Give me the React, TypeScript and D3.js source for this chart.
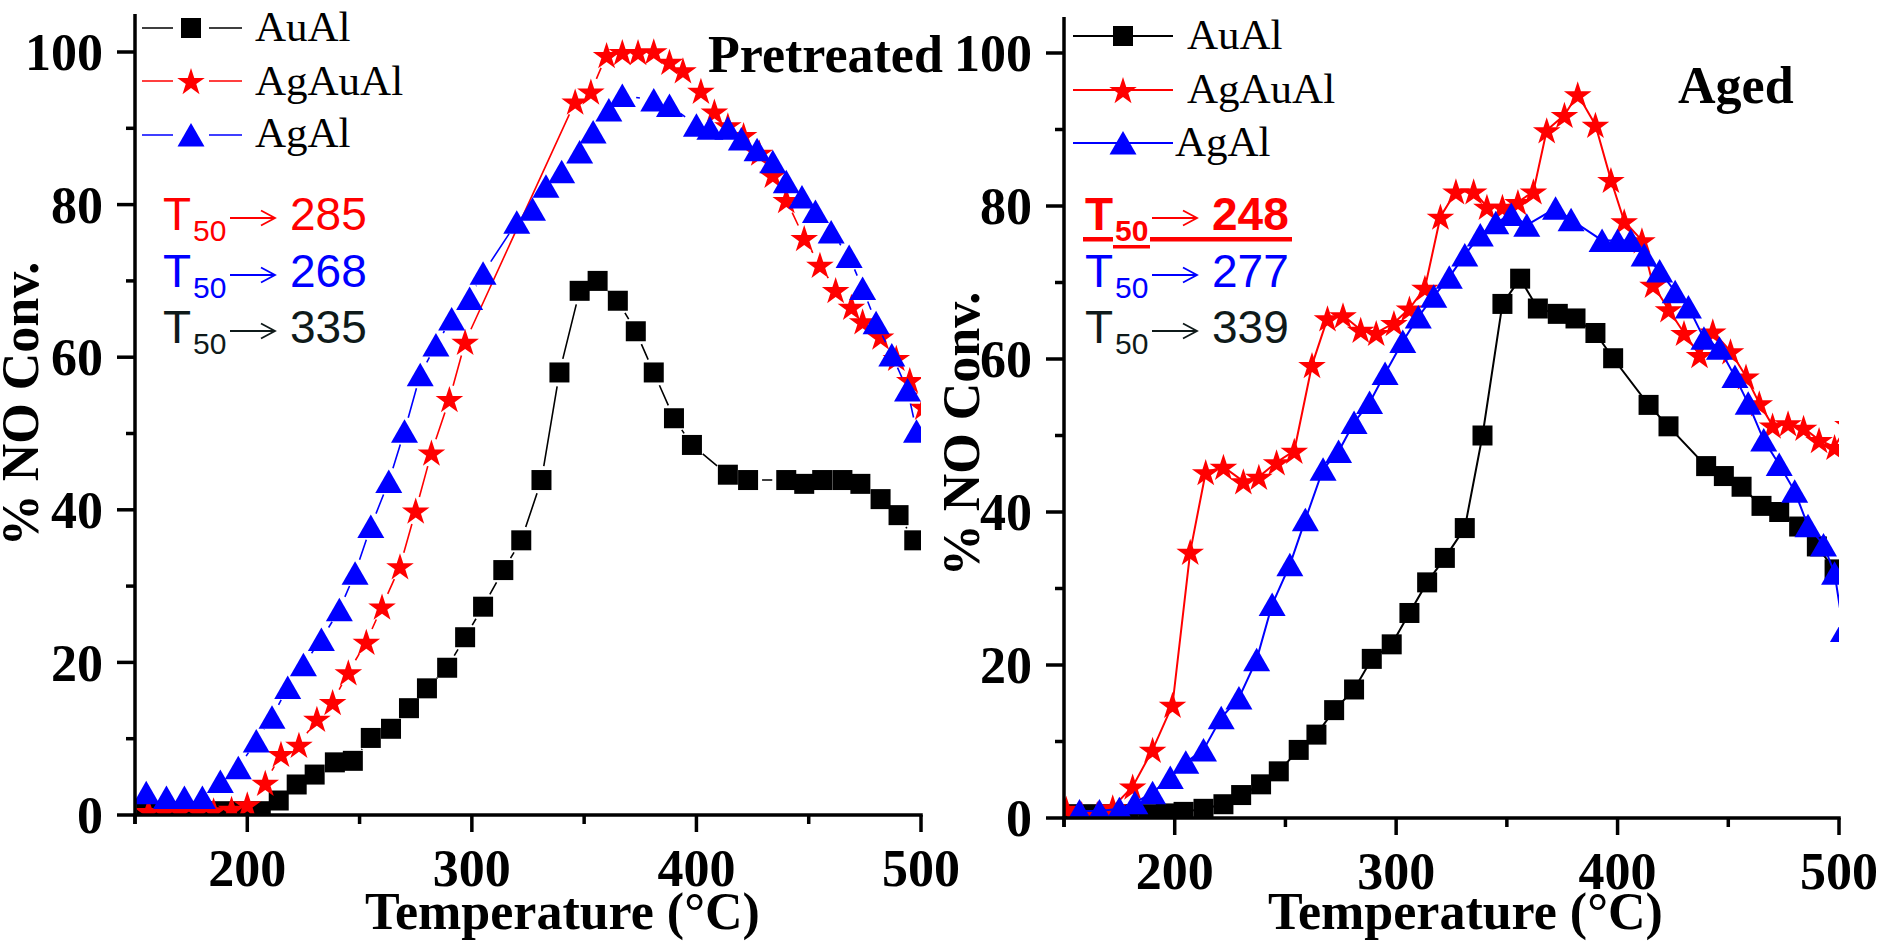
import React from "react";
import * as d3 from "d3";

// values: temperature (°C) and % NO conversion

// --- Pretreated panel ---
const preAuAlT = [155, 163, 172, 180, 189, 197, 206, 214, 222, 230, 239, 247, 255, 264, 272, 280, 289, 297, 305, 314, 322, 331, 339, 348, 356, 365, 373, 381, 390, 398, 414, 423, 440, 448, 456, 465, 473, 482, 490, 497];
const preAuAlNO = [0.5, 0.5, 0.5, 0.5, 0.5, 0.5, 0.5, 1.9, 4.0, 5.3, 6.9, 7.1, 10.1, 11.3, 14.0, 16.6, 19.3, 23.3, 27.3, 32.1, 36.0, 43.9, 58.0, 68.7, 70.0, 67.4, 63.4, 58.0, 52.0, 48.5, 44.6, 43.9, 43.9, 43.4, 43.9, 43.9, 43.4, 41.4, 39.3, 36.0];

const preAgAuAlT = [156, 163, 170, 178, 185, 193, 200, 208, 215, 223, 231, 238, 245, 253, 260, 268, 275, 282, 290, 297, 346, 353, 360, 367, 374, 381, 388, 394, 402, 408, 414, 421, 428, 434, 440, 448, 455, 462, 469, 474, 482, 489, 495, 501];
const preAgAuAlNO = [0.5, 0.5, 0.5, 0.5, 0.6, 0.8, 1.4, 4.2, 8.0, 9.2, 12.6, 14.8, 18.7, 22.7, 27.3, 32.6, 39.9, 47.5, 54.5, 62.0, 93.5, 94.8, 99.6, 100, 100, 100.1, 98.7, 97.6, 94.9, 92.2, 90.4, 89.1, 86.8, 83.9, 80.6, 75.6, 72.1, 68.8, 66.6, 64.7, 62.7, 59.9, 57.0, 53.5];

const preAgAlT = [155, 164, 172, 180, 188, 196, 204, 211, 218, 225, 233, 241, 248, 255, 263, 270, 277, 284, 291, 299, 305, 320, 327, 333, 340, 348, 354, 361, 367, 381, 388, 400, 406, 414, 420, 427, 434, 440, 447, 453, 460, 468, 474, 480, 487, 494, 498];
const preAgAlNO = [2.9, 2.3, 2.3, 2.3, 4.4, 6.2, 9.7, 12.8, 16.7, 19.7, 23.0, 26.9, 31.7, 37.8, 43.7, 50.3, 57.7, 61.6, 65.0, 67.7, 71.0, 77.7, 79.4, 82.4, 84.3, 86.9, 89.5, 92.4, 94.3, 93.7, 93.0, 90.4, 90.0, 90.0, 88.6, 87.2, 85.6, 83.0, 81.0, 79.1, 76.4, 73.2, 69.0, 64.5, 60.3, 55.7, 50.3];

// --- Aged panel ---
const agedAuAlT = [154, 162, 171, 179, 188, 196, 204, 213, 222, 230, 239, 247, 256, 264, 272, 281, 289, 298, 306, 314, 322, 331, 339, 348, 356, 364, 373, 381, 390, 398, 414, 423, 440, 448, 456, 465, 473, 482, 490, 498];
const agedAuAlNO = [0.5, 0.5, 0.5, 0.5, 0.5, 0.6, 0.8, 1.2, 1.8, 3.0, 4.4, 6.1, 8.9, 10.9, 14.1, 16.8, 20.8, 22.7, 26.8, 30.8, 34.0, 37.9, 50.0, 67.2, 70.5, 66.6, 65.9, 65.3, 63.4, 60.1, 54.0, 51.2, 46.0, 44.7, 43.3, 40.8, 40.0, 38.1, 35.5, 32.5];

const agedAgAuAlT = [151, 158, 165, 172, 181, 190, 199, 207, 214, 222, 231, 238, 246, 254, 262, 269, 276, 284, 291, 299, 306, 313, 320, 327, 335, 341, 348, 355, 362, 368, 376, 382, 390, 397, 403, 411, 416, 423, 430, 437, 443, 451, 458, 464, 470, 477, 484, 491, 498, 504];
const agedAgAuAlNO = [1.2, 0.5, 0.5, 1.4, 4.1, 8.9, 14.8, 34.8, 45.2, 45.9, 44.0, 44.6, 46.5, 48.0, 59.2, 65.3, 65.7, 63.8, 63.4, 64.7, 66.6, 69.3, 78.6, 81.9, 81.9, 79.9, 79.9, 80.5, 81.9, 89.9, 91.9, 94.6, 90.6, 83.4, 78.0, 75.5, 69.7, 66.5, 63.4, 60.5, 63.6, 61.0, 57.7, 54.2, 51.3, 51.6, 51.0, 49.4, 48.5, 51.5];

const agedAgAlT = [157, 166, 175, 182, 190, 198, 205, 213, 221, 229, 237, 244, 252, 259, 267, 274, 281, 288, 295, 303, 310, 317, 324, 331, 338, 345, 352, 359, 372, 379, 393, 400, 406, 412, 419, 426, 432, 439, 446, 453, 459, 466, 473, 480, 486, 493, 498, 502];
const agedAgAlNO = [0.9, 0.9, 1.2, 2.0, 3.3, 5.3, 7.3, 8.9, 13.1, 15.7, 20.7, 27.9, 33.1, 39.0, 45.6, 47.9, 51.7, 54.3, 58.1, 62.3, 65.5, 68.2, 70.7, 73.6, 76.2, 77.8, 78.9, 77.5, 79.7, 78.2, 75.5, 75.5, 75.5, 73.6, 71.5, 68.8, 66.8, 62.7, 61.4, 57.7, 54.2, 49.4, 46.2, 42.7, 38.2, 35.7, 32.0, 24.5];

// axes / labels
const xMajorTicks = [200, 300, 400, 500];
const xMinorTicks = [150, 250, 350, 450];
const yMajorTicks = [0, 20, 40, 60, 80, 100];
const yMinorTicks = [10, 30, 50, 70, 90];
const seriesNames = ["AuAl", "AgAuAl", "AgAl"];
const seriesColors = ["#000000", "#ff0000", "#0000ff"];
const seriesShapes = ["square", "star", "triangle"];
// T50 annotations, top to bottom: AgAuAl, AgAl, AuAl
const preT50 = ["285", "268", "335"];
const agedT50 = ["248", "277", "339"];
const t50Colors = ["#ff0000", "#0000ff", "#0f1a1a"];

const SERIF = '"Liberation Serif", "Times New Roman", serif';
const SANS = '"Liberation Sans", Arial, sans-serif';

function starPath(cx, cy, R) {
  const r = R * 0.382;
  const pts = [];
  for (let i = 0; i < 10; i++) {
    const a = -Math.PI / 2 + (i * Math.PI) / 5;
    const rr = i % 2 === 0 ? R : r;
    pts.push([cx + rr * Math.cos(a), cy + rr * Math.sin(a)]);
  }
  return "M" + pts.map((p) => p[0].toFixed(2) + "," + p[1].toFixed(2)).join("L") + "Z";
}

const Marker = ({ shape, x, y, color }) => {
  if (shape === "square") {
    return <rect x={x - 10} y={y - 10} width={20} height={20} fill={color} />;
  }
  if (shape === "triangle") {
    return (
      <path
        d={`M${x},${y - 12}L${x + 13.5},${y + 11.5}L${x - 13.5},${y + 11.5}Z`}
        fill={color}
      />
    );
  }
  return <path d={starPath(x, y + 1.4, 14.5)} fill={color} />;
};

// segments that stop short of each marker (Origin "gap to symbol")
function gappedPath(pts, gap) {
  let d = "";
  for (let i = 0; i < pts.length - 1; i++) {
    const [ax, ay] = pts[i];
    const [bx, by] = pts[i + 1];
    const dx = bx - ax, dy = by - ay;
    const len = Math.hypot(dx, dy);
    if (len <= 2 * gap) continue;
    const ux = dx / len, uy = dy / len;
    d += `M${ax + ux * gap},${ay + uy * gap}L${bx - ux * gap},${by - uy * gap}`;
  }
  return d;
}

const Panel = ({ id, x, y, top, series, gapped, lineW, title, titleX, titleY, labelX, labelY, titleXStart }) => {
  const x0 = x(150), x1 = x(500), y0 = y(0);
  const line = d3.line();
  return (
    <g>
      <defs>
        <clipPath id={id}>
          <rect x={x0} y={top} width={x1 - x0} height={y0 - top} />
        </clipPath>
      </defs>
      <g clipPath={`url(#${id})`}>
        {series.map((s, si) => {
          const pts = s.t.map((t, i) => [x(t), y(s.v[i])]);
          return (
            <g key={si}>
              <path
                d={gapped ? gappedPath(pts, 14) : line(pts)}
                fill="none"
                stroke={seriesColors[si]}
                strokeWidth={lineW}
              />
              {pts.map((p, i) => (
                <Marker key={i} shape={seriesShapes[si]} x={p[0]} y={p[1]} color={seriesColors[si]} />
              ))}
            </g>
          );
        })}
      </g>
      {/* axes */}
      <g stroke="#000" strokeWidth={3.5}>
        <line x1={x0} x2={x0} y1={top} y2={y0 + 9} />
        <line x1={x0 - 1.75} x2={x1 + 1.75} y1={y0} y2={y0} />
        {yMajorTicks.map((v) => (
          <line key={"ym" + v} x1={x0 - 18} x2={x0} y1={y(v)} y2={y(v)} />
        ))}
        {yMinorTicks.map((v) => (
          <line key={"yn" + v} x1={x0 - 9} x2={x0} y1={y(v)} y2={y(v)} />
        ))}
        {xMajorTicks.map((v) => (
          <line key={"xm" + v} x1={x(v)} x2={x(v)} y1={y0} y2={y0 + 17} />
        ))}
        {xMinorTicks.map((v) => (
          <line key={"xn" + v} x1={x(v)} x2={x(v)} y1={y0} y2={y0 + 9} />
        ))}
      </g>
      <g fontFamily={SERIF} fontWeight="bold" fontSize={52} fill="#000">
        {yMajorTicks.map((v) => (
          <text key={"yl" + v} x={x0 - 32} y={y(v)} dy="0.35em" textAnchor="end">
            {v}
          </text>
        ))}
        {xMajorTicks.map((v) => (
          <text key={"xl" + v} x={x(v)} y={y0 + 71} textAnchor="middle">
            {v}
          </text>
        ))}
        <text x={titleXStart} y={929}>Temperature (°C)</text>
        <text transform={`translate(${labelX},${labelY}) rotate(-90)`} textAnchor="middle">
          % NO Conv.
        </text>
        <text x={titleX} y={titleY}>{title}</text>
      </g>
    </g>
  );
};

const Legend = ({ lineX1, lineX2, markX, rows, textXs, baselines, gapped }) => (
  <g>
    {seriesNames.map((name, i) => (
      <g key={name}>
        {gapped ? (
          <path
            d={`M${lineX1},${rows[i]}L${markX - 18},${rows[i]}M${markX + 18},${rows[i]}L${lineX2},${rows[i]}`}
            stroke={seriesColors[i]}
            strokeWidth={1.5}
          />
        ) : (
          <line x1={lineX1} x2={lineX2} y1={rows[i]} y2={rows[i]} stroke={seriesColors[i]} strokeWidth={2} />
        )}
        <Marker shape={seriesShapes[i]} x={markX} y={rows[i]} color={seriesColors[i]} />
        <text x={textXs[i]} y={baselines[i]} fontFamily={SERIF} fontSize={43} fill="#000">
          {name}
        </text>
      </g>
    ))}
  </g>
);

const T50Block = ({ x, values, baselines, boldFirst }) => (
  <g fontFamily={SANS}>
    {values.map((val, i) => {
      const strong = boldFirst && i === 0;
      const bold = strong ? "bold" : "normal";
      const b = baselines[i];
      const c = t50Colors[i];
      const ay = b - 12;
      return (
        <g key={i} fill={c}>
          <text x={x} y={b} fontSize={46} fontWeight={bold}>T</text>
          <text x={x + 30} y={b + 11} fontSize={30} fontWeight={bold}>50</text>
          <path
            d={`M${x + 67},${ay}L${x + 112},${ay}M${x + 98},${ay - 7.5}L${x + 112},${ay}L${x + 98},${ay + 7.5}`}
            fill="none"
            stroke={c}
            strokeWidth={1.8}
          />
          <text x={x + 127} y={b} fontSize={46} fontWeight={bold}>{val}</text>
          {strong ? (
            <g>
              <rect x={x - 2} y={b + 7} width={30} height={4.5} />
              <rect x={x + 65} y={b + 7} width={142} height={4.5} />
              <rect x={x + 28} y={b + 15} width={37} height={3.5} />
            </g>
          ) : null}
        </g>
      );
    })}
  </g>
);

export default function App() {
  const xPre = d3.scaleLinear().domain([150, 500]).range([135, 921]);
  const yPre = d3.scaleLinear().domain([0, 100]).range([815, 52]);
  const xAged = d3.scaleLinear().domain([150, 500]).range([1064, 1839]);
  const yAged = d3.scaleLinear().domain([0, 100]).range([818, 53]);

  const preSeries = [
    { t: preAuAlT, v: preAuAlNO },
    { t: preAgAuAlT, v: preAgAuAlNO },
    { t: preAgAlT, v: preAgAlNO },
  ];
  const agedSeries = [
    { t: agedAuAlT, v: agedAuAlNO },
    { t: agedAgAuAlT, v: agedAgAuAlNO },
    { t: agedAgAlT, v: agedAgAlNO },
  ];

  return (
    <svg
      width={1884}
      height={944}
      viewBox="0 0 1884 944"
      style={{ position: "absolute", left: 0, top: 0, background: "#fff" }}
    >
      <rect width={1884} height={944} fill="#fff" />
      <Panel
        id="clipPre"
        x={xPre}
        y={yPre}
        top={14}
        series={preSeries}
        gapped={true}
        lineW={1.6}
        title="Pretreated"
        titleX={708}
        titleY={72}
        labelX={38}
        labelY={404}
        titleXStart={365}
      />
      <Panel
        id="clipAged"
        x={xAged}
        y={yAged}
        top={17}
        series={agedSeries}
        gapped={false}
        lineW={2}
        title="Aged"
        titleX={1678}
        titleY={103}
        labelX={979}
        labelY={434}
        titleXStart={1268}
      />
      <Legend
        lineX1={142}
        lineX2={242}
        markX={191}
        rows={[28, 81, 135]}
        textXs={[255, 255, 255]}
        baselines={[41, 95, 147]}
        gapped={true}
      />
      <Legend
        lineX1={1073}
        lineX2={1173}
        markX={1123}
        rows={[36, 90, 143]}
        textXs={[1187, 1187, 1175]}
        baselines={[49, 103, 156]}
        gapped={false}
      />
      <T50Block x={163} values={preT50} baselines={[230, 287, 343]} boldFirst={false} />
      <T50Block x={1085} values={agedT50} baselines={[230, 287, 343]} boldFirst={true} />
    </svg>
  );
}
